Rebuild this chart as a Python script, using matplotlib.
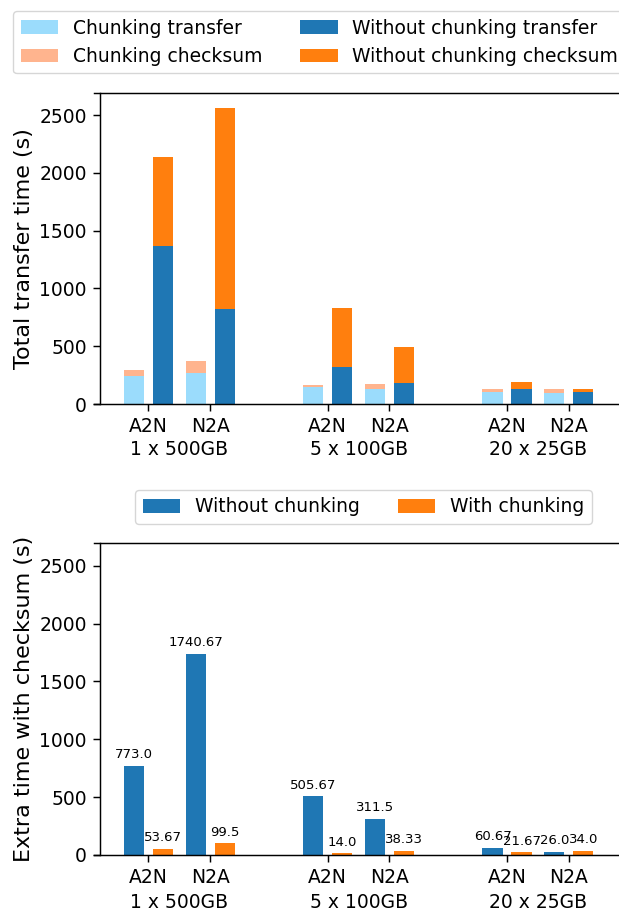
import matplotlib
matplotlib.use('Agg')
import matplotlib.pyplot as plt
from matplotlib.transforms import blended_transform_factory

groups = ['1 x 500GB', '5 x 100GB', '20 x 25GB']
directions = ['A2N', 'N2A']

# order: (1x500 A2N, 1x500 N2A, 5x100 A2N, 5x100 N2A, 20x25 A2N, 20x25 N2A)
chunk_transfer = [238, 270, 148, 132, 107, 95]
chunk_checksum = [53.67, 99.5, 14.0, 38.33, 21.67, 34.0]
nochunk_transfer = [1367, 824.33, 322, 182, 129, 104]
nochunk_checksum = [773.0, 1740.67, 505.67, 311.5, 60.67, 26.0]

# the reference looks like a default figure rendered at ~1.33x scale
plt.rcParams.update({
    'axes.linewidth': 1.05,
    'xtick.major.size': 4.7, 'ytick.major.size': 4.7,
    'xtick.major.width': 1.05, 'ytick.major.width': 1.05,
    'xtick.major.pad': 4.7, 'ytick.major.pad': 4.7,
})

W, H = 619, 915
fig = plt.figure(figsize=(W / 100, H / 100), dpi=100)


def ax_rect(left, top, right, bottom):
    return [left / W, 1 - bottom / H, (right - left) / W, (bottom - top) / H]


ax1 = fig.add_axes(ax_rect(94, 92.7, 622, 404))
ax2 = fig.add_axes(ax_rect(94, 543.3, 622, 855), sharey=ax1)

x = [g * 2.906 + d for g in range(len(groups)) for d in range(len(directions))]
centers = [g * 2.906 + 0.5 for g in range(len(groups))]
off, w = 0.235, 0.33
xl = [p - off for p in x]
xr = [p + off for p in x]

c_light_blue = '#9bdcfc'
c_light_orange = '#ffb48e'
fs = 13.5

# top chart: stacked bars
ax1.bar(xl, chunk_transfer, w, color=c_light_blue, label='Chunking transfer')
ax1.bar(xl, chunk_checksum, w, bottom=chunk_transfer, color=c_light_orange,
        label='Chunking checksum')
ax1.bar(xr, nochunk_transfer, w, color='tab:blue', label='Without chunking transfer')
ax1.bar(xr, nochunk_checksum, w, bottom=nochunk_transfer, color='tab:orange',
        label='Without chunking checksum')
ax1.set_ylabel('Total transfer time (s)', fontsize=16)

# bottom chart: extra checksum time
b1 = ax2.bar(xl, nochunk_checksum, w, color='tab:blue', label='Without chunking')
b2 = ax2.bar(xr, chunk_checksum, w, color='tab:orange', label='With chunking')
for bars, vals in ((b1, nochunk_checksum), (b2, chunk_checksum)):
    for r, v in zip(bars, vals):
        ax2.annotate(str(v), (r.get_x() + r.get_width() / 2, v), xytext=(0, 3.5),
                     textcoords='offset points', ha='center', va='bottom', fontsize=9.5)
ax2.set_ylabel('Extra time with checksum (s)', fontsize=16)

totals = [a + b for a, b in zip(nochunk_transfer, nochunk_checksum)]
for ax, gy in ((ax1, -0.147), (ax2, -0.153)):
    ax.set_xlim(-0.883, 7.674)
    ax.set_ylim(0, max(totals) * 1.05)
    ax.set_yticks([0, 500, 1000, 1500, 2000, 2500])
    ax.set_xticks(x)
    ax.set_xticklabels(directions * len(groups))
    ax.tick_params(labelsize=fs)
    ax.spines['left'].set_position(('outward', -4.3))
    tr = blended_transform_factory(ax.transData, ax.transAxes)
    for cx, g in zip(centers, groups):
        ax.text(cx, gy, g, transform=tr, ha='center', va='center', fontsize=fs)

fig.legend(handles=ax1.get_legend_handles_labels()[0], ncol=2, fontsize=fs,
           loc='upper left', bbox_to_anchor=(13 / W, 1 - 11 / H), borderaxespad=0)
fig.legend(handles=[b1, b2], ncol=2, fontsize=fs, loc='upper center',
           bbox_to_anchor=(363.5 / W, 1 - 490 / H), borderaxespad=0)

fig.savefig('out.png', dpi=100)
